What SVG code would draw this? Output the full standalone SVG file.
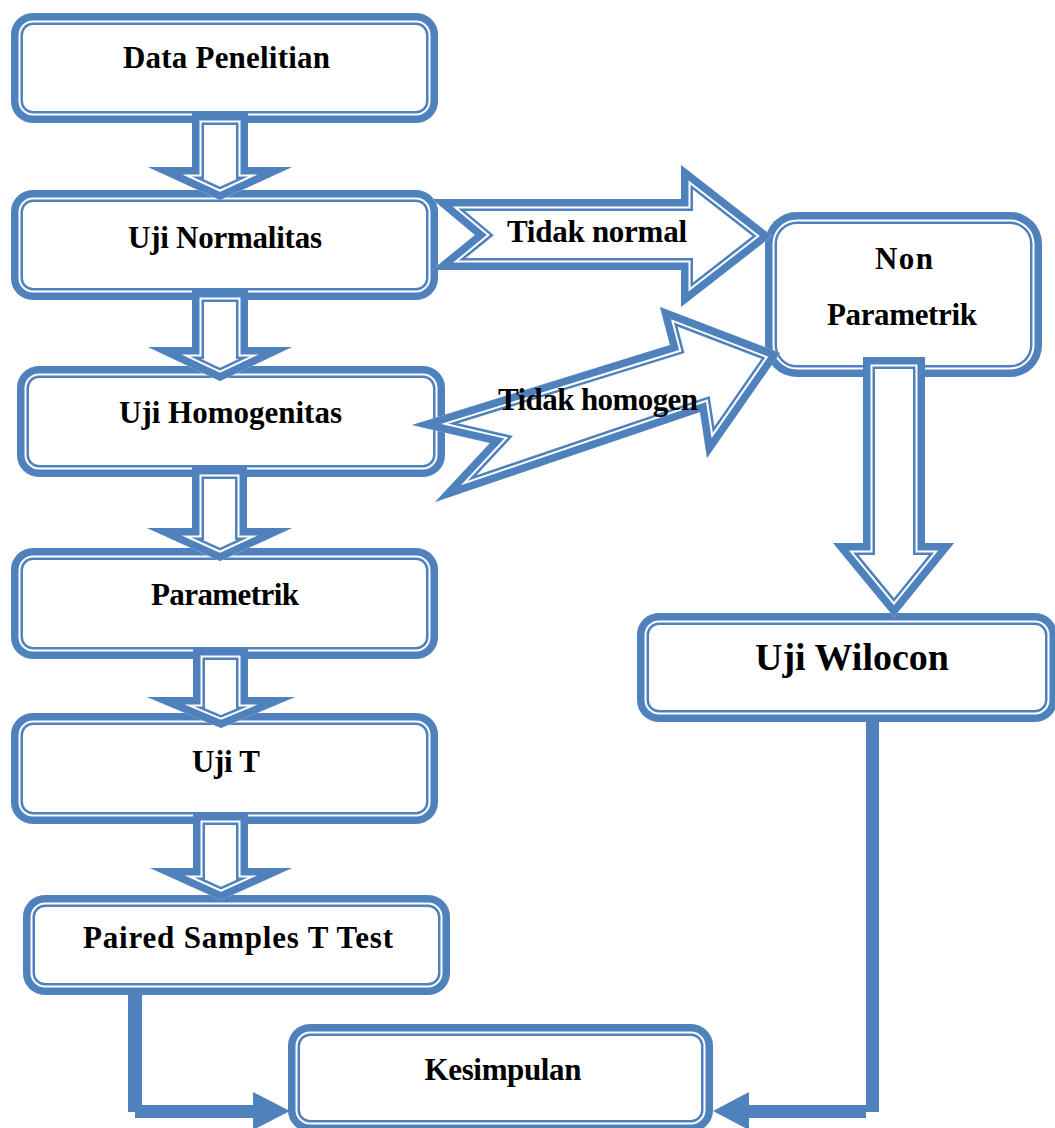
<svg xmlns="http://www.w3.org/2000/svg" xmlns:xlink="http://www.w3.org/1999/xlink" width="1055" height="1128" viewBox="0 0 1055 1128">
<style>
.b1{fill:#fff;stroke:#4F81BD;stroke-width:24;stroke-linejoin:miter;stroke-miterlimit:20}
.b2{fill:none;stroke:#fff;stroke-width:19;stroke-linejoin:miter;stroke-miterlimit:20}
.b3{fill:none;stroke:#4F81BD;stroke-width:15;stroke-linejoin:miter;stroke-miterlimit:20}
.t{font-family:"Liberation Serif","Times New Roman",serif;font-weight:bold;font-size:31px;fill:#000;text-anchor:middle}
.ln{fill:#4F81BD;stroke:none}
</style>
<defs>
<rect id="s1" x="11" y="13" width="427" height="110" rx="22"/>
<rect id="s2" x="11" y="190" width="427" height="110" rx="22"/>
<rect id="s3" x="17" y="366" width="428" height="111" rx="22"/>
<rect id="s4" x="11" y="548" width="427" height="111" rx="22"/>
<rect id="s5" x="11" y="713" width="427" height="111" rx="22"/>
<rect id="s6" x="23" y="895" width="427" height="100" rx="22"/>
<rect id="s7" x="288" y="1024" width="425" height="108" rx="22"/>
<rect id="s8" x="765" y="212" width="277" height="165" rx="32"/>
<rect id="s9" x="637" y="613" width="420" height="109" rx="22"/>
<polygon id="a1" points="192,113 248,113 248,167 292,167 220,200 148,167 192,167"/>
<polygon id="a2" points="192,290 248,290 248,347 292,347 220,381 148,347 192,347"/>
<polygon id="a3" points="192,467 247,467 247,528 292,528 220,561 147,528 192,528"/>
<polygon id="a4" points="193,648 248,648 248,697 295,697 221,728 147,697 193,697"/>
<polygon id="a5" points="193,813 248,813 248,868 292,868 221,900 150,868 193,868"/>
<polygon id="a6" points="863,357 925,357 925,543 954,543 894,617 833,543 863,543"/>
<polygon id="h1" points="432,199 681,199 681,165 772,236 681,307 681,270 432,270 475,235"/>
<polygon id="h2" points="412,425 670,345 660,307 780,353 707,458 700,412 435,502 490,443"/>
<clipPath id="c1"><use xlink:href="#s1"/></clipPath>
<clipPath id="c2"><use xlink:href="#s2"/></clipPath>
<clipPath id="c3"><use xlink:href="#s3"/></clipPath>
<clipPath id="c4"><use xlink:href="#s4"/></clipPath>
<clipPath id="c5"><use xlink:href="#s5"/></clipPath>
<clipPath id="c6"><use xlink:href="#s6"/></clipPath>
<clipPath id="c7"><use xlink:href="#s7"/></clipPath>
<clipPath id="c8"><use xlink:href="#s8"/></clipPath>
<clipPath id="c9"><use xlink:href="#s9"/></clipPath>
<clipPath id="ca1"><use xlink:href="#a1"/></clipPath>
<clipPath id="ca2"><use xlink:href="#a2"/></clipPath>
<clipPath id="ca3"><use xlink:href="#a3"/></clipPath>
<clipPath id="ca4"><use xlink:href="#a4"/></clipPath>
<clipPath id="ca5"><use xlink:href="#a5"/></clipPath>
<clipPath id="ca6"><use xlink:href="#a6"/></clipPath>
<clipPath id="ch1"><use xlink:href="#h1"/></clipPath>
<clipPath id="ch2"><use xlink:href="#h2"/></clipPath>
</defs>
<rect width="1055" height="1128" fill="#fff"/>

<g id="node-data-penelitian">
<g clip-path="url(#c1)"><use xlink:href="#s1" class="b1"/><use xlink:href="#s1" class="b2"/><use xlink:href="#s1" class="b3"/></g>
<text class="t" x="226.5" y="68" textLength="207" lengthAdjust="spacing">Data Penelitian</text>
</g>
<g id="node-uji-normalitas">
<g clip-path="url(#c2)"><use xlink:href="#s2" class="b1"/><use xlink:href="#s2" class="b2"/><use xlink:href="#s2" class="b3"/></g>
<text class="t" x="225" y="248" textLength="194" lengthAdjust="spacing">Uji Normalitas</text>
</g>
<g id="node-uji-homogenitas">
<g clip-path="url(#c3)"><use xlink:href="#s3" class="b1"/><use xlink:href="#s3" class="b2"/><use xlink:href="#s3" class="b3"/></g>
<text class="t" x="230.5" y="423" textLength="223" lengthAdjust="spacing">Uji Homogenitas</text>
</g>
<g id="node-parametrik">
<g clip-path="url(#c4)"><use xlink:href="#s4" class="b1"/><use xlink:href="#s4" class="b2"/><use xlink:href="#s4" class="b3"/></g>
<text class="t" x="225" y="605" textLength="148" lengthAdjust="spacing">Parametrik</text>
</g>
<g id="node-uji-t">
<g clip-path="url(#c5)"><use xlink:href="#s5" class="b1"/><use xlink:href="#s5" class="b2"/><use xlink:href="#s5" class="b3"/></g>
<text class="t" x="226" y="772" textLength="68" lengthAdjust="spacing">Uji T</text>
</g>
<g id="node-paired">
<g clip-path="url(#c6)"><use xlink:href="#s6" class="b1"/><use xlink:href="#s6" class="b2"/><use xlink:href="#s6" class="b3"/></g>
<text class="t" x="238" y="948" textLength="310" lengthAdjust="spacing">Paired Samples T Test</text>
</g>
<g id="node-kesimpulan">
<g clip-path="url(#c7)"><use xlink:href="#s7" class="b1"/><use xlink:href="#s7" class="b2"/><use xlink:href="#s7" class="b3"/></g>
<text class="t" x="503" y="1080" textLength="157" lengthAdjust="spacing">Kesimpulan</text>
</g>
<g id="node-non-parametrik">
<g clip-path="url(#c8)"><use xlink:href="#s8" class="b1"/><use xlink:href="#s8" class="b2"/><use xlink:href="#s8" class="b3"/></g>
<text class="t" x="904" y="269" textLength="58" lengthAdjust="spacing">Non</text>
<text class="t" x="902" y="325" textLength="150" lengthAdjust="spacing">Parametrik</text>
</g>
<g id="node-uji-wilocon">
<g clip-path="url(#c9)"><use xlink:href="#s9" class="b1"/><use xlink:href="#s9" class="b2"/><use xlink:href="#s9" class="b3"/></g>
<text class="t" x="852" y="670" style="font-size:38px" textLength="194" lengthAdjust="spacing">Uji Wilocon</text>
</g>

<g id="connectors">
<g clip-path="url(#ca1)"><use xlink:href="#a1" class="b1"/><use xlink:href="#a1" class="b2"/><use xlink:href="#a1" class="b3"/></g>
<g clip-path="url(#ca2)"><use xlink:href="#a2" class="b1"/><use xlink:href="#a2" class="b2"/><use xlink:href="#a2" class="b3"/></g>
<g clip-path="url(#ca3)"><use xlink:href="#a3" class="b1"/><use xlink:href="#a3" class="b2"/><use xlink:href="#a3" class="b3"/></g>
<g clip-path="url(#ca4)"><use xlink:href="#a4" class="b1"/><use xlink:href="#a4" class="b2"/><use xlink:href="#a4" class="b3"/></g>
<g clip-path="url(#ca5)"><use xlink:href="#a5" class="b1"/><use xlink:href="#a5" class="b2"/><use xlink:href="#a5" class="b3"/></g>
<g clip-path="url(#ca6)"><use xlink:href="#a6" class="b1"/><use xlink:href="#a6" class="b2"/><use xlink:href="#a6" class="b3"/></g>
<g clip-path="url(#ch1)"><use xlink:href="#h1" class="b1"/><use xlink:href="#h1" class="b2"/><use xlink:href="#h1" class="b3"/></g>
<g clip-path="url(#ch2)"><use xlink:href="#h2" class="b1"/><use xlink:href="#h2" class="b2"/><use xlink:href="#h2" class="b3"/></g>
<text class="t" x="597" y="242" textLength="180" lengthAdjust="spacing">Tidak  normal</text>
<text class="t" x="598" y="410" textLength="200" lengthAdjust="spacing">Tidak homogen</text>
<rect class="ln" x="128" y="995" width="14" height="117"/>
<rect class="ln" x="135" y="1105" width="119" height="13"/>
<polygon class="ln" points="253,1092 290,1111 253,1130"/>
<rect class="ln" x="866" y="722" width="13" height="390"/>
<rect class="ln" x="749" y="1105" width="117" height="13"/>
<polygon class="ln" points="749,1092 713,1111 749,1130"/>
</g>
</svg>
